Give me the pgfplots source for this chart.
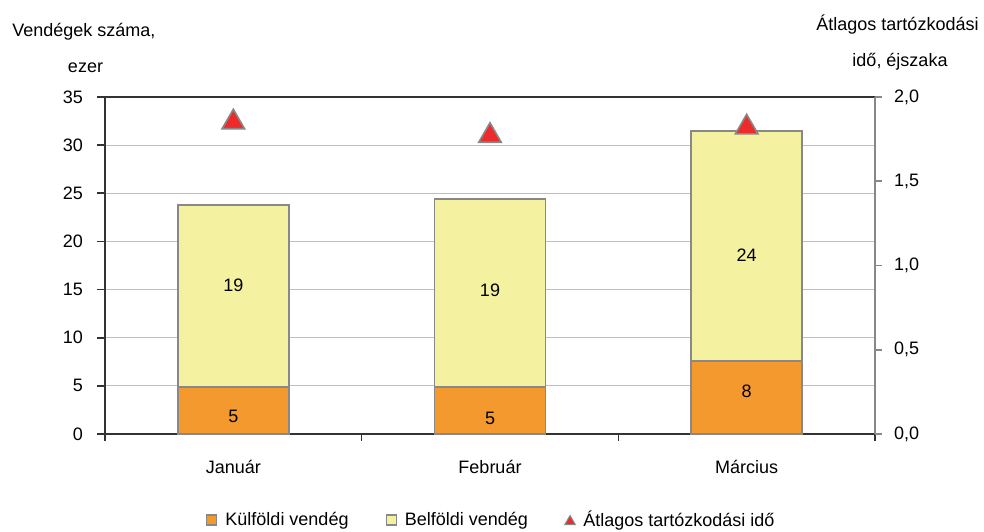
\documentclass[border=0pt]{standalone}
\usepackage{pgfplots}
\pgfplotsset{compat=1.18}
\usepackage{fontspec}
\setmainfont{Liberation Sans}
\definecolor{orangebar}{RGB}{243,153,45}
\definecolor{yellowbar}{RGB}{244,241,160}
\definecolor{redtri}{RGB}{238,43,43}
\definecolor{bordergray}{RGB}{136,136,136}
\definecolor{gridgray}{RGB}{190,190,190}
\definecolor{axisdark}{RGB}{51,51,51}
\pgfplotsset{
  squarelegend/.style={legend image code/.code={\draw[##1] (0pt,-2.5pt) rectangle (5pt,2.5pt);}},
  trilegend/.style={legend image code/.code={\draw[only marks, mark=triangle*, mark size=3pt, mark options={fill=redtri, draw=bordergray, line width=0.5pt}] plot coordinates {(3pt,-0.8pt)};}},
}
\begin{document}
\begin{tikzpicture}[font=\fontsize{9pt}{11pt}\selectfont]
\path[use as bounding box] (0,0) rectangle (492pt,265.5pt);
% main axis with stacked bars
\begin{axis}[
  at={(52.5pt,48.5pt)}, anchor=south west,
  scale only axis, width=385pt, height=168.5pt,
  ybar stacked, bar width=55.5pt,
  xmin=-0.5, xmax=2.5, ymin=0, ymax=35,
  xtick={0,1,2}, xticklabels={Január,Február,Március},
  major x tick style={draw=none},
  minor xtick={-0.5,0.5,1.5,2.5},
  minor x tick style={axisdark, line width=0.8pt},
  minor tick length=3.5pt,
  ytick={0,5,...,35},
  major tick length=4pt,
  tick align=outside,
  y tick style={axisdark, line width=0.8pt},
  ymajorgrids, grid style={gridgray, line width=0.5pt},
  axis line style={axisdark, line width=1pt},
  axis x line*=bottom, axis y line*=left,
  xticklabel style={yshift=-5.5pt},
  yticklabel style={xshift=-3.5pt},
  /pgf/number format/assume math mode=true,
  clip=false,
]
\addplot[fill=orangebar, draw=bordergray, line width=0.8pt] coordinates {(0,4.9) (1,4.9) (2,7.6)};
\addplot[fill=yellowbar, draw=bordergray, line width=0.8pt] coordinates {(0,18.9) (1,19.5) (2,23.9)};
\end{axis}
% top border
\begin{axis}[
  at={(52.5pt,48.5pt)}, anchor=south west,
  scale only axis, width=385pt, height=168.5pt,
  xmin=-0.5, xmax=2.5, ymin=0, ymax=35,
  axis x line*=top, axis y line=none,
  xtick=\empty,
  axis line style={axisdark, line width=1pt},
]
\end{axis}
% labels overlay
\begin{axis}[
  at={(52.5pt,48.5pt)}, anchor=south west,
  scale only axis, width=385pt, height=168.5pt,
  xmin=-0.5, xmax=2.5, ymin=0, ymax=35,
  hide axis, clip=false,
]
\addplot[only marks, mark=none, point meta=explicit symbolic,
  nodes near coords, nodes near coords align={center},
  every node near coord/.append style={anchor=center, text=black, inner sep=0pt}]
  coordinates {(0,1.87)[5] (1,1.66)[5] (2,4.39)[8] (0,15.4)[19] (1,14.95)[19] (2,18.6)[24]};
\end{axis}
% right axis with triangles
\begin{axis}[
  at={(52.5pt,48.5pt)}, anchor=south west,
  scale only axis, width=385pt, height=168.5pt,
  xmin=-0.5, xmax=2.5, ymin=0, ymax=2,
  axis x line=none, axis y line*=right,
  ytick={0,0.5,...,2},
  yticklabel style={/pgf/number format/.cd, fixed, fixed zerofill, precision=1, use comma, /tikz/.cd, xshift=2.5pt},
  /pgf/number format/assume math mode=true,
  tick align=outside, major tick length=3.5pt,
  y tick style={bordergray, line width=0.8pt},
  axis line style={bordergray, line width=1pt},
  clip=false,
  legend style={at={(0.503,-0.255)}, anchor=center, draw=none, fill=none,
    legend columns=3, column sep=2pt, inner sep=0pt,
    /tikz/every even column/.append style={column sep=16.5pt}},
  legend cell align=left,
]
\addlegendimage{area legend, fill=orangebar, draw=bordergray, line width=0.6pt, squarelegend}
\addlegendentry{Külföldi vendég}
\addlegendimage{area legend, fill=yellowbar, draw=bordergray, line width=0.6pt, squarelegend}
\addlegendentry{Belföldi vendég}
\addplot[only marks, mark=triangle*, mark size=6.5pt,
  mark options={fill=redtri, draw=bordergray, line width=0.8pt}, trilegend]
  coordinates {(0,1.85) (1,1.77) (2,1.82)};
\addlegendentry{Átlagos tartózkodási idő}
\end{axis}
% axis titles
\node[anchor=west, inner sep=0pt] at (6pt,249.5pt) {Vendégek száma,};
\node at (42.75pt,231.5pt) {ezer};
\node at (448.75pt,253pt) {Átlagos tartózkodási};
\node at (450pt,234.5pt) {idő, éjszaka};
\end{tikzpicture}
\end{document}
